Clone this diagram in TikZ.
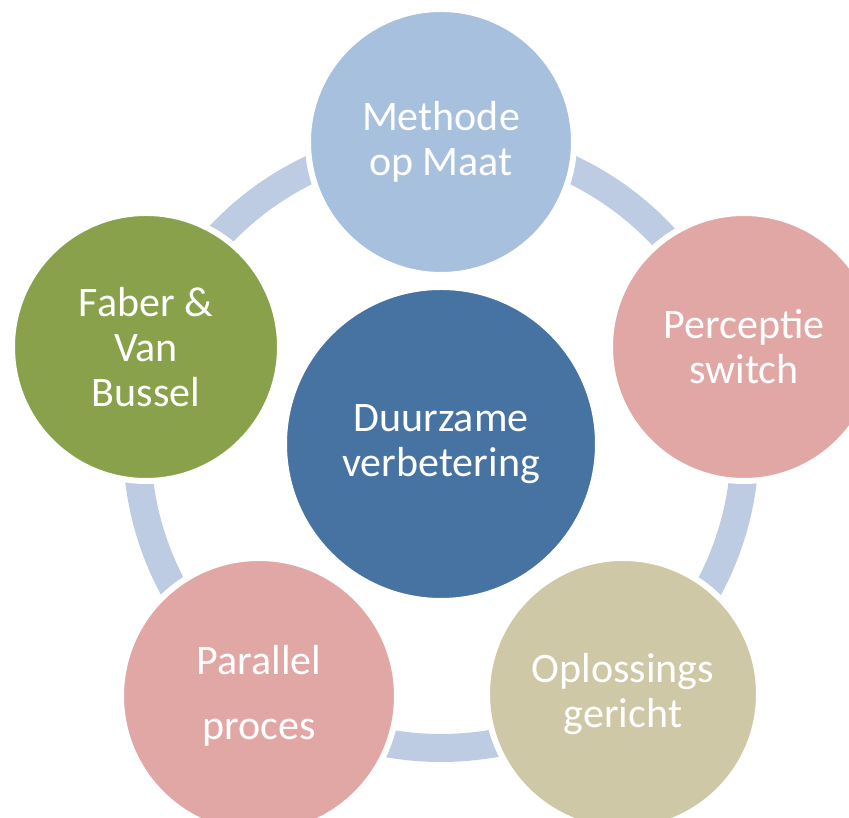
\documentclass[tikz,border=0pt]{standalone}
\usepackage{fontspec}
\setmainfont{Carlito}
\usetikzlibrary{positioning}
\definecolor{hubblue}{HTML}{4673A1}
\definecolor{skyblue}{HTML}{A7C0DE}
\definecolor{rosepink}{HTML}{E1A7A5}
\definecolor{khaki}{HTML}{CEC8A6}
\definecolor{olive}{HTML}{8AA14C}
\definecolor{ringblue}{HTML}{BDCCE2}

\begin{document}
\begin{tikzpicture}[x=1pt,y=1pt,
  bubble/.style={circle,draw=white,line width=6pt,inner sep=0pt,text=white,align=center,
    font=\fontsize{42}{45}\selectfont},
  ring/.style={draw=ringblue,line width=28pt}]
\useasboundingbox (0,0) rectangle (849,818);
\clip (0,0) rectangle (849,818);
% ring behind the circles
\coordinate (mid) at (441,374);
\draw[ring] (mid) circle[radius=304];
% centre
\node[bubble,fill=hubblue,minimum size=314pt] (hub) at (mid) {Duurzame\\verbetering};
% outer circles
\foreach \name/\x/\y/\s/\col/\txt in {
  methode/441/676/266/skyblue/{Methode\\op Maat},
  perceptie/744/471/268/rosepink/{Perceptie\\switch},
  oplossing/623/124/272/khaki/{Oplossings\\gericht},
  parallel/259/122/276/rosepink/{Parallel\\[20pt]proces},
  faber/146/471/268/olive/{Faber \&\\Van\\Bussel}} {
\node[bubble,fill=\col,minimum size=\s pt] (\name) at (\x,\y) {\txt};
}
\end{tikzpicture}
\end{document}
